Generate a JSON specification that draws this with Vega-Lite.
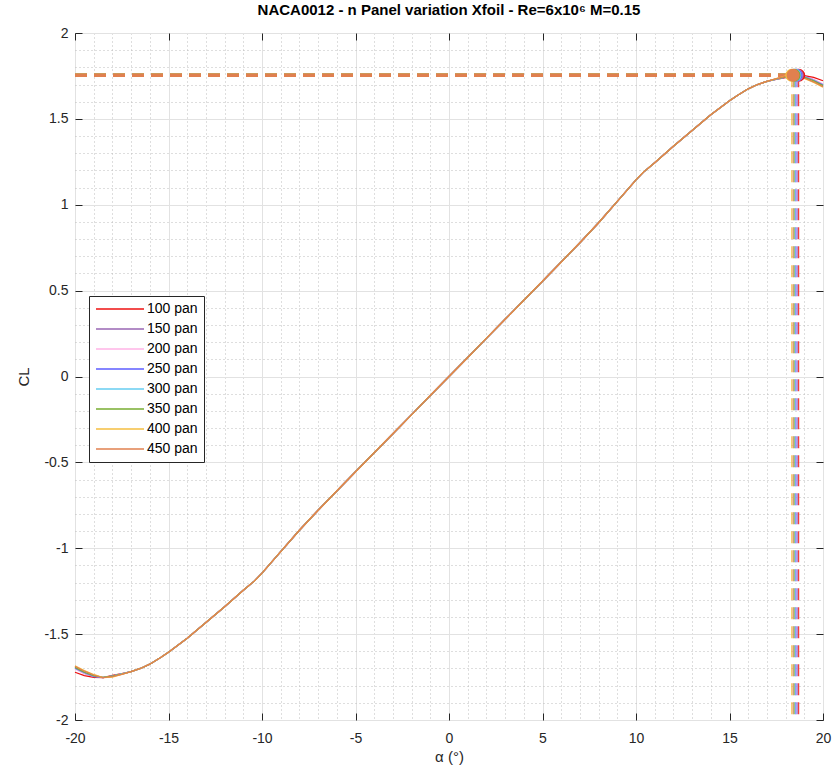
{
  "$schema": "https://vega.github.io/schema/vega-lite/v6.json",
  "width": 748,
  "height": 687,
  "autosize": "none",
  "padding": {"left": 75, "top": 33, "right": 13, "bottom": 58},
  "background": "white",
  "title": {"text": "NACA0012 - n Panel variation Xfoil - Re=6x10⁶ M=0.15", "fontSize": 15, "fontWeight": "bold", "font": "Liberation Sans", "color": "#000000", "offset": 8},
  "config": {
    "view": {"stroke": "#262626", "strokeWidth": 1},
    "axis": {"labelFont": "Liberation Sans", "titleFont": "Liberation Sans", "labelColor": "#262626", "titleColor": "#262626", "tickColor": "#262626", "labelFlush": false}
  },
  "datasets": {
    "curves": [
      {"a": -20, "100 pan": -1.722, "150 pan": -1.700, "200 pan": -1.702, "250 pan": -1.698, "300 pan": -1.694, "350 pan": -1.694, "400 pan": -1.684, "450 pan": -1.688},
      {"a": -19.5, "100 pan": -1.742, "150 pan": -1.728, "200 pan": -1.728, "250 pan": -1.725, "300 pan": -1.722, "350 pan": -1.722, "400 pan": -1.712, "450 pan": -1.716},
      {"a": -19, "100 pan": -1.752, "150 pan": -1.747, "200 pan": -1.745, "250 pan": -1.744, "300 pan": -1.742, "350 pan": -1.742, "400 pan": -1.735, "450 pan": -1.738},
      {"a": -18.5, "100 pan": -1.753, "150 pan": -1.753, "200 pan": -1.752, "250 pan": -1.753, "300 pan": -1.752, "350 pan": -1.752, "400 pan": -1.753, "450 pan": -1.753},
      {"a": -18, "100 pan": -1.740, "150 pan": -1.743, "200 pan": -1.744, "250 pan": -1.744, "300 pan": -1.745, "350 pan": -1.745, "400 pan": -1.750, "450 pan": -1.748},
      {"a": -17.5, "100 pan": -1.730, "150 pan": -1.731, "200 pan": -1.732, "250 pan": -1.732, "300 pan": -1.732, "350 pan": -1.733, "400 pan": -1.735, "450 pan": -1.734},
      {"a": -17, "100 pan": -1.718, "150 pan": -1.718, "200 pan": -1.718, "250 pan": -1.718, "300 pan": -1.718, "350 pan": -1.718, "400 pan": -1.719, "450 pan": -1.719},
      {"a": -16.5, "100 pan": -1.700, "150 pan": -1.700, "200 pan": -1.700, "250 pan": -1.700, "300 pan": -1.700, "350 pan": -1.700, "400 pan": -1.700, "450 pan": -1.700},
      {"a": -16, "100 pan": -1.675, "150 pan": -1.675, "200 pan": -1.675, "250 pan": -1.675, "300 pan": -1.675, "350 pan": -1.675, "400 pan": -1.675, "450 pan": -1.675},
      {"a": -15.4, "100 pan": -1.635, "150 pan": -1.635, "200 pan": -1.635, "250 pan": -1.635, "300 pan": -1.635, "350 pan": -1.635, "400 pan": -1.635, "450 pan": -1.635},
      {"a": -15, "100 pan": -1.606, "150 pan": -1.606, "200 pan": -1.606, "250 pan": -1.606, "300 pan": -1.606, "350 pan": -1.606, "400 pan": -1.606, "450 pan": -1.606},
      {"a": -14, "100 pan": -1.524, "150 pan": -1.524, "200 pan": -1.524, "250 pan": -1.524, "300 pan": -1.524, "350 pan": -1.524, "400 pan": -1.524, "450 pan": -1.524},
      {"a": -13, "100 pan": -1.432, "150 pan": -1.432, "200 pan": -1.432, "250 pan": -1.432, "300 pan": -1.432, "350 pan": -1.432, "400 pan": -1.432, "450 pan": -1.432},
      {"a": -12, "100 pan": -1.340, "150 pan": -1.340, "200 pan": -1.340, "250 pan": -1.340, "300 pan": -1.340, "350 pan": -1.340, "400 pan": -1.340, "450 pan": -1.340},
      {"a": -11, "100 pan": -1.245, "150 pan": -1.245, "200 pan": -1.245, "250 pan": -1.245, "300 pan": -1.245, "350 pan": -1.245, "400 pan": -1.245, "450 pan": -1.245},
      {"a": -10.4, "100 pan": -1.190, "150 pan": -1.190, "200 pan": -1.190, "250 pan": -1.190, "300 pan": -1.190, "350 pan": -1.190, "400 pan": -1.190, "450 pan": -1.190},
      {"a": -10, "100 pan": -1.145, "150 pan": -1.145, "200 pan": -1.145, "250 pan": -1.145, "300 pan": -1.145, "350 pan": -1.145, "400 pan": -1.145, "450 pan": -1.145},
      {"a": -9, "100 pan": -1.020, "150 pan": -1.020, "200 pan": -1.020, "250 pan": -1.020, "300 pan": -1.020, "350 pan": -1.020, "400 pan": -1.020, "450 pan": -1.020},
      {"a": -8, "100 pan": -0.895, "150 pan": -0.895, "200 pan": -0.895, "250 pan": -0.895, "300 pan": -0.895, "350 pan": -0.895, "400 pan": -0.895, "450 pan": -0.895},
      {"a": -7, "100 pan": -0.779, "150 pan": -0.779, "200 pan": -0.779, "250 pan": -0.779, "300 pan": -0.779, "350 pan": -0.779, "400 pan": -0.779, "450 pan": -0.779},
      {"a": -6, "100 pan": -0.667, "150 pan": -0.667, "200 pan": -0.667, "250 pan": -0.667, "300 pan": -0.667, "350 pan": -0.667, "400 pan": -0.667, "450 pan": -0.667},
      {"a": -5, "100 pan": -0.555, "150 pan": -0.555, "200 pan": -0.555, "250 pan": -0.555, "300 pan": -0.555, "350 pan": -0.555, "400 pan": -0.555, "450 pan": -0.555},
      {"a": -4, "100 pan": -0.444, "150 pan": -0.444, "200 pan": -0.444, "250 pan": -0.444, "300 pan": -0.444, "350 pan": -0.444, "400 pan": -0.444, "450 pan": -0.444},
      {"a": -3, "100 pan": -0.333, "150 pan": -0.333, "200 pan": -0.333, "250 pan": -0.333, "300 pan": -0.333, "350 pan": -0.333, "400 pan": -0.333, "450 pan": -0.333},
      {"a": -2, "100 pan": -0.222, "150 pan": -0.222, "200 pan": -0.222, "250 pan": -0.222, "300 pan": -0.222, "350 pan": -0.222, "400 pan": -0.222, "450 pan": -0.222},
      {"a": -1, "100 pan": -0.111, "150 pan": -0.111, "200 pan": -0.111, "250 pan": -0.111, "300 pan": -0.111, "350 pan": -0.111, "400 pan": -0.111, "450 pan": -0.111},
      {"a": 0, "100 pan": 0, "150 pan": 0, "200 pan": 0, "250 pan": 0, "300 pan": 0, "350 pan": 0, "400 pan": 0, "450 pan": 0},
      {"a": 1, "100 pan": 0.111, "150 pan": 0.111, "200 pan": 0.111, "250 pan": 0.111, "300 pan": 0.111, "350 pan": 0.111, "400 pan": 0.111, "450 pan": 0.111},
      {"a": 2, "100 pan": 0.222, "150 pan": 0.222, "200 pan": 0.222, "250 pan": 0.222, "300 pan": 0.222, "350 pan": 0.222, "400 pan": 0.222, "450 pan": 0.222},
      {"a": 3, "100 pan": 0.333, "150 pan": 0.333, "200 pan": 0.333, "250 pan": 0.333, "300 pan": 0.333, "350 pan": 0.333, "400 pan": 0.333, "450 pan": 0.333},
      {"a": 4, "100 pan": 0.444, "150 pan": 0.444, "200 pan": 0.444, "250 pan": 0.444, "300 pan": 0.444, "350 pan": 0.444, "400 pan": 0.444, "450 pan": 0.444},
      {"a": 5, "100 pan": 0.555, "150 pan": 0.555, "200 pan": 0.555, "250 pan": 0.555, "300 pan": 0.555, "350 pan": 0.555, "400 pan": 0.555, "450 pan": 0.555},
      {"a": 6, "100 pan": 0.667, "150 pan": 0.667, "200 pan": 0.667, "250 pan": 0.667, "300 pan": 0.667, "350 pan": 0.667, "400 pan": 0.667, "450 pan": 0.667},
      {"a": 7, "100 pan": 0.779, "150 pan": 0.779, "200 pan": 0.779, "250 pan": 0.779, "300 pan": 0.779, "350 pan": 0.779, "400 pan": 0.779, "450 pan": 0.779},
      {"a": 8, "100 pan": 0.895, "150 pan": 0.895, "200 pan": 0.895, "250 pan": 0.895, "300 pan": 0.895, "350 pan": 0.895, "400 pan": 0.895, "450 pan": 0.895},
      {"a": 9, "100 pan": 1.020, "150 pan": 1.020, "200 pan": 1.020, "250 pan": 1.020, "300 pan": 1.020, "350 pan": 1.020, "400 pan": 1.020, "450 pan": 1.020},
      {"a": 10, "100 pan": 1.145, "150 pan": 1.145, "200 pan": 1.145, "250 pan": 1.145, "300 pan": 1.145, "350 pan": 1.145, "400 pan": 1.145, "450 pan": 1.145},
      {"a": 10.4, "100 pan": 1.190, "150 pan": 1.190, "200 pan": 1.190, "250 pan": 1.190, "300 pan": 1.190, "350 pan": 1.190, "400 pan": 1.190, "450 pan": 1.190},
      {"a": 11, "100 pan": 1.245, "150 pan": 1.245, "200 pan": 1.245, "250 pan": 1.245, "300 pan": 1.245, "350 pan": 1.245, "400 pan": 1.245, "450 pan": 1.245},
      {"a": 12, "100 pan": 1.340, "150 pan": 1.340, "200 pan": 1.340, "250 pan": 1.340, "300 pan": 1.340, "350 pan": 1.340, "400 pan": 1.340, "450 pan": 1.340},
      {"a": 13, "100 pan": 1.432, "150 pan": 1.432, "200 pan": 1.432, "250 pan": 1.432, "300 pan": 1.432, "350 pan": 1.432, "400 pan": 1.432, "450 pan": 1.432},
      {"a": 14, "100 pan": 1.524, "150 pan": 1.524, "200 pan": 1.524, "250 pan": 1.524, "300 pan": 1.524, "350 pan": 1.524, "400 pan": 1.524, "450 pan": 1.524},
      {"a": 15, "100 pan": 1.606, "150 pan": 1.606, "200 pan": 1.606, "250 pan": 1.606, "300 pan": 1.606, "350 pan": 1.606, "400 pan": 1.606, "450 pan": 1.606},
      {"a": 15.4, "100 pan": 1.635, "150 pan": 1.635, "200 pan": 1.635, "250 pan": 1.635, "300 pan": 1.635, "350 pan": 1.635, "400 pan": 1.635, "450 pan": 1.635},
      {"a": 16, "100 pan": 1.675, "150 pan": 1.675, "200 pan": 1.675, "250 pan": 1.675, "300 pan": 1.675, "350 pan": 1.675, "400 pan": 1.675, "450 pan": 1.675},
      {"a": 16.5, "100 pan": 1.700, "150 pan": 1.700, "200 pan": 1.700, "250 pan": 1.700, "300 pan": 1.700, "350 pan": 1.700, "400 pan": 1.700, "450 pan": 1.700},
      {"a": 17, "100 pan": 1.718, "150 pan": 1.718, "200 pan": 1.718, "250 pan": 1.718, "300 pan": 1.718, "350 pan": 1.718, "400 pan": 1.719, "450 pan": 1.719},
      {"a": 17.5, "100 pan": 1.730, "150 pan": 1.731, "200 pan": 1.732, "250 pan": 1.732, "300 pan": 1.732, "350 pan": 1.733, "400 pan": 1.735, "450 pan": 1.734},
      {"a": 18, "100 pan": 1.740, "150 pan": 1.743, "200 pan": 1.744, "250 pan": 1.744, "300 pan": 1.745, "350 pan": 1.745, "400 pan": 1.750, "450 pan": 1.748},
      {"a": 18.5, "100 pan": 1.753, "150 pan": 1.753, "200 pan": 1.752, "250 pan": 1.753, "300 pan": 1.752, "350 pan": 1.752, "400 pan": 1.753, "450 pan": 1.753},
      {"a": 19, "100 pan": 1.752, "150 pan": 1.747, "200 pan": 1.745, "250 pan": 1.744, "300 pan": 1.742, "350 pan": 1.742, "400 pan": 1.735, "450 pan": 1.738},
      {"a": 19.5, "100 pan": 1.742, "150 pan": 1.728, "200 pan": 1.728, "250 pan": 1.725, "300 pan": 1.722, "350 pan": 1.722, "400 pan": 1.712, "450 pan": 1.716},
      {"a": 20, "100 pan": 1.722, "150 pan": 1.700, "200 pan": 1.702, "250 pan": 1.698, "300 pan": 1.694, "350 pan": 1.694, "400 pan": 1.684, "450 pan": 1.688}
    ],
    "peaks": [
      {"series": "100 pan", "alpha": 18.7, "cl": 1.754},
      {"series": "150 pan", "alpha": 18.62, "cl": 1.754},
      {"series": "200 pan", "alpha": 18.55, "cl": 1.754},
      {"series": "250 pan", "alpha": 18.55, "cl": 1.754},
      {"series": "300 pan", "alpha": 18.5, "cl": 1.754},
      {"series": "350 pan", "alpha": 18.45, "cl": 1.754},
      {"series": "400 pan", "alpha": 18.33, "cl": 1.754},
      {"series": "450 pan", "alpha": 18.4, "cl": 1.754}
    ],
    "hlines": [
      {"series": "100 pan", "alpha": -20, "cl": 1.754}, {"series": "100 pan", "alpha": 18.7, "cl": 1.754},
      {"series": "150 pan", "alpha": -20, "cl": 1.754}, {"series": "150 pan", "alpha": 18.62, "cl": 1.754},
      {"series": "200 pan", "alpha": -20, "cl": 1.754}, {"series": "200 pan", "alpha": 18.55, "cl": 1.754},
      {"series": "250 pan", "alpha": -20, "cl": 1.754}, {"series": "250 pan", "alpha": 18.55, "cl": 1.754},
      {"series": "300 pan", "alpha": -20, "cl": 1.754}, {"series": "300 pan", "alpha": 18.5, "cl": 1.754},
      {"series": "350 pan", "alpha": -20, "cl": 1.754}, {"series": "350 pan", "alpha": 18.45, "cl": 1.754},
      {"series": "400 pan", "alpha": -20, "cl": 1.754}, {"series": "400 pan", "alpha": 18.33, "cl": 1.754},
      {"series": "450 pan", "alpha": -20, "cl": 1.754}, {"series": "450 pan", "alpha": 18.4, "cl": 1.754}
    ]
  },
  "resolve": {"axis": {"x": "independent", "y": "independent"}},
  "layer": [
    {
      "data": {"name": "peaks"},
      "mark": {"type": "rule", "strokeDash": [12, 7], "strokeWidth": 1},
      "encoding": {
        "x": {"field": "alpha", "type": "quantitative", "scale": {"domain": [-20, 20], "nice": false, "zero": false},
          "axis": {"orient": "bottom", "values": [-19,-18,-17,-16,-14,-13,-12,-11,-9,-8,-7,-6,-4,-3,-2,-1,1,2,3,4,6,7,8,9,11,12,13,14,16,17,18,19], "grid": true, "gridDash": [1, 3], "gridColor": "#bdbdbd", "gridWidth": 1, "labels": false, "ticks": false, "domain": false, "title": null}},
        "y": {"field": "cl", "type": "quantitative", "scale": {"domain": [-2, 2], "nice": false, "zero": false},
          "axis": {"orient": "left", "values": [-1.9,-1.8,-1.7,-1.6,-1.4,-1.3,-1.2,-1.1,-0.9,-0.8,-0.7,-0.6,-0.4,-0.3,-0.2,-0.1,0.1,0.2,0.3,0.4,0.6,0.7,0.8,0.9,1.1,1.2,1.3,1.4,1.6,1.7,1.8,1.9], "grid": true, "gridDash": [1, 3], "gridColor": "#bdbdbd", "gridWidth": 1, "labels": false, "ticks": false, "domain": false, "title": null}},
        "y2": {"datum": -2},
        "color": {"field": "series", "type": "nominal",
          "scale": {"domain": ["100 pan", "150 pan", "200 pan", "250 pan", "300 pan", "350 pan", "400 pan", "450 pan"], "range": ["#EE1111", "#9966B3", "#FFB3E6", "#5C5CFF", "#66CCF0", "#77AC30", "#F5BE41", "#E0804F"]},
          "legend": {"orient": "none", "legendX": 14, "legendY": 263, "title": null, "fillColor": "white", "strokeColor": "#262626", "padding": 6, "symbolType": "M-1,0H7", "symbolSize": 144, "symbolStrokeWidth": 1.5, "symbolOpacity": 1, "labelOffset": 38, "labelFontSize": 14, "labelFont": "Liberation Sans", "labelColor": "#000000", "rowPadding": 6}}
      }
    },
    {
      "data": {"name": "hlines"},
      "mark": {"type": "line", "strokeDash": [12, 7], "strokeWidth": 3.5},
      "encoding": {
        "x": {"field": "alpha", "type": "quantitative", "axis": null},
        "y": {"field": "cl", "type": "quantitative", "axis": null},
        "color": {"field": "series", "type": "nominal"}
      }
    },
    {
      "data": {"name": "curves"},
      "transform": [{"fold": ["100 pan", "150 pan", "200 pan", "250 pan", "300 pan", "350 pan", "400 pan", "450 pan"], "as": ["series", "cl"]}],
      "mark": {"type": "line", "strokeWidth": 1.3},
      "encoding": {
        "x": {"field": "a", "type": "quantitative",
          "axis": {"orient": "bottom", "values": [-20,-15,-10,-5,0,5,10,15,20], "grid": true, "gridColor": "#e2e2e2", "gridWidth": 1, "labelFontSize": 14, "labelPadding": 18, "labelExpr": "'' + datum.value", "ticks": true, "tickSize": -7, "domain": false, "title": "α (°)", "titleFontSize": 15, "titleFontWeight": "normal", "titlePadding": 4}},
        "y": {"field": "cl", "type": "quantitative",
          "axis": {"orient": "left", "values": [-2,-1.5,-1,-0.5,0,0.5,1,1.5,2], "grid": true, "gridColor": "#e2e2e2", "gridWidth": 1, "labelFontSize": 14, "labelPadding": 14, "labelExpr": "'' + datum.value", "ticks": true, "tickSize": -7, "domain": false, "title": "CL", "titleFontSize": 15, "titleFontWeight": "normal", "titlePadding": 12}},
        "color": {"field": "series", "type": "nominal"}
      }
    },
    {
      "data": {"name": "peaks"},
      "mark": {"type": "point", "filled": true, "size": 170, "opacity": 1},
      "encoding": {
        "x": {"field": "alpha", "type": "quantitative",
          "axis": {"orient": "top", "values": [-20,-15,-10,-5,0,5,10,15,20], "grid": false, "labels": false, "ticks": true, "tickSize": -7, "domain": false, "title": null}},
        "y": {"field": "cl", "type": "quantitative",
          "axis": {"orient": "right", "values": [-2,-1.5,-1,-0.5,0,0.5,1,1.5,2], "grid": false, "labels": false, "ticks": true, "tickSize": -7, "domain": false, "title": null}},
        "color": {"field": "series", "type": "nominal"}
      }
    }
  ]
}
